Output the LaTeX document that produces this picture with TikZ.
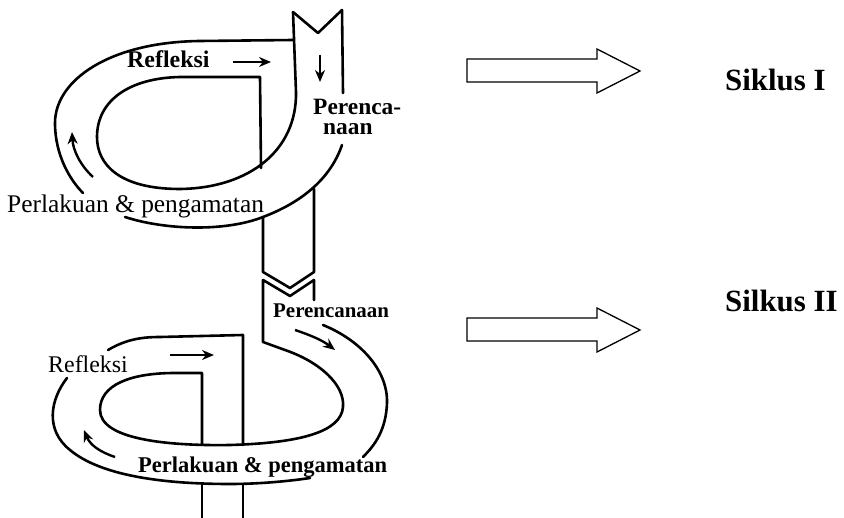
\documentclass[tikz,border=0pt]{standalone}
\usepackage{fontspec}
\setmainfont{Liberation Serif}
\usetikzlibrary{arrows.meta}
\begin{document}
\begin{tikzpicture}[x=1bp,y=-1bp,
  ribbon/.style={line width=2.6bp, line cap=round, line join=round},
  flow/.style={line width=2.4bp, -{Stealth[length=12bp,width=10bp]}},
  bigarrow/.style={line width=1.3bp, line join=miter, fill=white},
  lbl/.style={inner sep=0pt, anchor=base west},
  cyc/.style={lbl, font=\fontsize{31}{31}\selectfont\bfseries},
]
\useasboundingbox[fill=white] (0,0) rectangle (844,518);

% ---------- first cycle ----------
% notched top of the ribbon
\draw[ribbon] (293,12) -- (318,33) -- (342,10);
% left edge of the ribbon turning into the inner edge of the loop
\draw[ribbon] (293,12) -- (296,92)
  .. controls (297,150) and (250,188) .. (180,189)
  .. controls (120,189) and (97,165) .. (97,137)
  .. controls (97,100) and (130,78) .. (180,77)
  -- (260,77) -- (261,168);
% right edge of the ribbon
\draw[ribbon] (342,10) -- (343,93);
% outer edge: top and left side
\draw[ribbon] (293,40) -- (200,41)
  .. controls (110,42) and (55,80) .. (55,123)
  .. controls (55,155) and (70,180) .. (83,193);
% outer edge: bottom and right side
\draw[ribbon] (125,217)
  .. controls (165,230) and (225,232) .. (263,217)
  .. controls (300,203) and (330,180) .. (342,145);
% ribbon leaving the first cycle, pointed end
\draw[ribbon] (263,217) -- (263,272) -- (290,288) -- (314,272) -- (314,189);

% ---------- second cycle ----------
% notched start of the ribbon and inner edge of the loop
\draw[ribbon] (314,300) -- (314,280) -- (290,296) -- (263,280) -- (263,342) -- (285,350)
  .. controls (320,362) and (345,385) .. (343,407)
  .. controls (341,432) and (300,443) .. (230,445)
  .. controls (170,446) and (100,440) .. (100,410)
  .. controls (100,385) and (130,373) .. (175,373)
  -- (202,373) -- (202,445);
% outer edge: right side
\draw[ribbon] (323,325)
  .. controls (360,340) and (388,370) .. (387,403)
  .. controls (386,430) and (375,445) .. (363,457);
% outer edge: top, turning down
\draw[ribbon] (108,350) .. controls (125,340) and (140,337) .. (160,337)
  -- (243,335) -- (243,445);
% outer edge: left side and bottom
\draw[ribbon] (67,378)
  .. controls (50,400) and (45,430) .. (70,450)
  .. controls (100,475) and (160,484) .. (230,484)
  .. controls (260,484) and (290,481) .. (310,478);
% ribbon continuing downwards
\draw[ribbon] (202,484) -- (202,518);
\draw[ribbon] (243,484) -- (243,518);

% ---------- labels ----------
\node[lbl, font=\fontsize{24}{24}\selectfont\bfseries] (refA) at (127,68) {Refleksi};
\node[lbl, font=\fontsize{23.5}{21}\selectfont\bfseries, align=left] (planA) at (313,135) {Perenca-\\\hspace{10bp}naan};
\node[lbl, font=\fontsize{25.5}{25.5}\selectfont] (actA) at (7,213) {Perlakuan \& pengamatan};
\node[lbl, font=\fontsize{21}{21}\selectfont\bfseries] (planB) at (273,318) {Perencanaan};
\node[lbl, font=\fontsize{24}{24}\selectfont] (refB) at (48,372) {Refleksi};
\node[lbl, font=\fontsize{22.6}{22.6}\selectfont\bfseries] (actB) at (138,472) {Perlakuan \& pengamatan};

% ---------- direction arrows ----------
\draw[flow] (233,62) -- (271,62);
\draw[flow] (320,55) -- (320,82);
\draw[flow] (93,177) .. controls (80,165) and (73,150) .. (72,132);
\draw[flow] (295,330) .. controls (310,335) and (322,340) .. (335,350);
\draw[flow] (170,355) -- (214,355);
\draw[flow] (115,457) .. controls (100,452) and (90,445) .. (84,430);

% ---------- cycle markers ----------
\draw[bigarrow] (467,59) -- (597,59) -- (597,49) -- (640,71) -- (597,93) -- (597,82) -- (467,82) -- cycle;
\draw[bigarrow] (467,318) -- (597,318) -- (597,308) -- (640,330) -- (597,352) -- (597,341) -- (467,341) -- cycle;
\node[cyc] (cycA) at (725,91) {Siklus I};
\node[cyc] (cycB) at (725,312) {Silkus II};
\end{tikzpicture}
\end{document}
